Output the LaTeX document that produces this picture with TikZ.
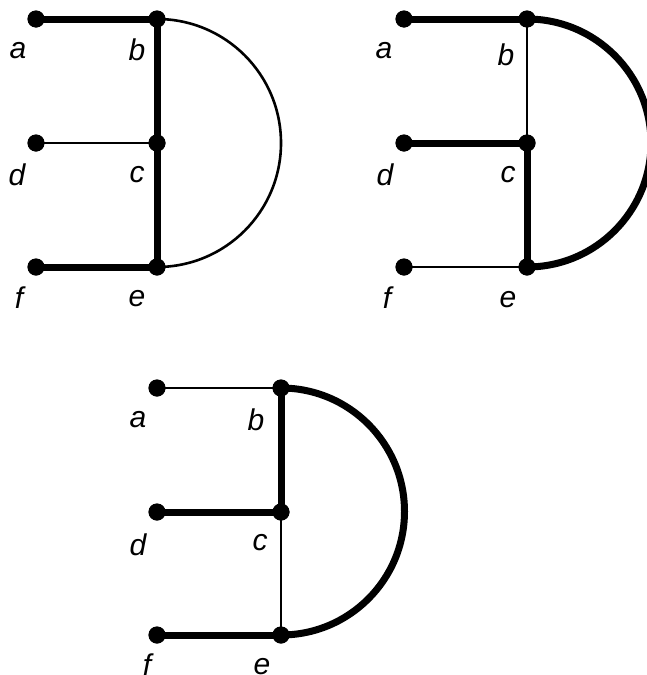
\documentclass[tikz,border=0pt]{standalone}
\usepackage{fontspec}
\setmainfont{Liberation Sans}
\begin{document}
\begin{tikzpicture}[x=1pt,y=1pt,
  vtx/.style={circle,fill=black,inner sep=0pt,minimum size=17pt},
  lbl/.style={inner sep=0pt,font=\fontsize{30}{34}\selectfont\itshape},
  thk/.style={line width=7pt},
  thn/.style={line width=2.6pt}]
\useasboundingbox (0,0) rectangle (646,-675);
% ---------- graph 1 ----------
\node[vtx] (a1) at (36,-19) {};
\node[vtx] (b1) at (157,-19) {};
\node[vtx] (d1) at (36,-143) {};
\node[vtx] (c1) at (157,-143) {};
\node[vtx] (f1) at (36,-267) {};
\node[vtx] (e1) at (157,-267) {};
\draw[thk] (a1.center) -- (b1.center);
\draw[thk] (b1.center) -- (c1.center);
\draw[thk] (c1.center) -- (e1.center);
\draw[thk] (f1.center) -- (e1.center);
\draw[thn] (d1.center) -- (c1.center);
\draw[thn] (b1.center) arc[start angle=90,end angle=-90,radius=124];
\foreach \n in {a1,b1,c1,d1,e1,f1} \node[vtx] at (\n) {};
\node[lbl] (la1) at (18,-51) {a};
\node[lbl] (lb1) at (137,-50) {b};
\node[lbl] (ld1) at (17,-175) {d};
\node[lbl] (lc1) at (137,-175) {c};
\node[lbl] (lf1) at (19,-298) {f};
\node[lbl] (le1) at (137,-299) {e};
% ---------- graph 2 ----------
\node[vtx] (a2) at (404,-19) {};
\node[vtx] (b2) at (527,-19) {};
\node[vtx] (d2) at (404,-143) {};
\node[vtx] (c2) at (527,-143) {};
\node[vtx] (f2) at (404,-267) {};
\node[vtx] (e2) at (527,-267) {};
\draw[thk] (a2.center) -- (b2.center);
\draw[thn] (b2.center) -- (c2.center);
\draw[thk] (c2.center) -- (e2.center);
\draw[thn] (f2.center) -- (e2.center);
\draw[thk] (d2.center) -- (c2.center);
\draw[thk] (b2.center) arc[start angle=90,end angle=-90,radius=124];
\foreach \n in {a2,b2,c2,d2,e2,f2} \node[vtx] at (\n) {};
\node[lbl] (la2) at (384,-51) {a};
\node[lbl] (lb2) at (506,-55) {b};
\node[lbl] (ld2) at (385,-175) {d};
\node[lbl] (lc2) at (508,-175) {c};
\node[lbl] (lf2) at (387,-298) {f};
\node[lbl] (le2) at (508,-300) {e};
% ---------- graph 3 ----------
\node[vtx] (a3) at (157,-388) {};
\node[vtx] (b3) at (281,-388) {};
\node[vtx] (d3) at (157,-512) {};
\node[vtx] (c3) at (281,-512) {};
\node[vtx] (f3) at (157,-635) {};
\node[vtx] (e3) at (281,-635) {};
\draw[thn] (a3.center) -- (b3.center);
\draw[thk] (b3.center) -- (c3.center);
\draw[thn] (c3.center) -- (e3.center);
\draw[thk] (f3.center) -- (e3.center);
\draw[thk] (d3.center) -- (c3.center);
\draw[thk] (b3.center) arc[start angle=90,end angle=-90,radius=123.5];
\foreach \n in {a3,b3,c3,d3,e3,f3} \node[vtx] at (\n) {};
\node[lbl] (la3) at (138,-420) {a};
\node[lbl] (lb3) at (256,-420) {b};
\node[lbl] (ld3) at (138,-545) {d};
\node[lbl] (lc3) at (260,-543) {c};
\node[lbl] (lf3) at (147,-665) {f};
\node[lbl] (le3) at (262,-667) {e};
\end{tikzpicture}
\end{document}
